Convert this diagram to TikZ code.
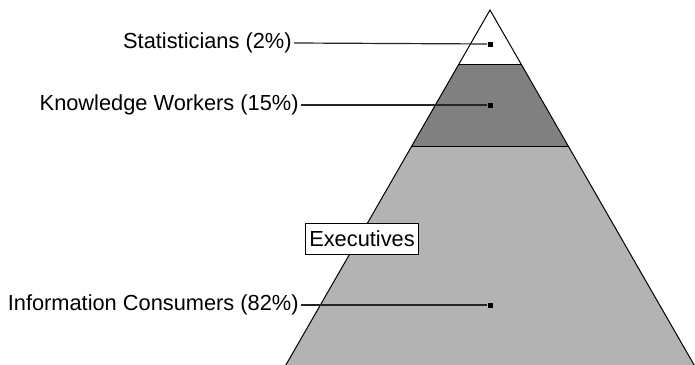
\documentclass[tikz,border=0pt]{standalone}
\usepackage{fontspec}
\setmainfont{Liberation Sans}
\usepackage{xcolor}
\definecolor{bandtop}{RGB}{255,255,255}
\definecolor{bandmid}{RGB}{128,128,128}
\definecolor{bandlow}{RGB}{179,179,179}

\begin{document}
\begin{tikzpicture}[x=0.5pt, y=-0.5pt,
    lbl/.style={anchor=east, inner sep=1pt, font=\fontsize{10.9}{12}\selectfont},
    pin/.style={fill=black, inner sep=0pt, minimum size=2.5pt},
    lead/.style={draw=black!85, line width=0.6pt}]
    \useasboundingbox (0,0) rectangle (695,364);
    \clip (0,0) rectangle (695,364);

    % Pyramid bands
    \fill[bandlow] (412,146) -- (568,146) -- (697,370) -- (283,370) -- cycle;
    \fill[bandmid] (459,64) -- (521,64) -- (568,146) -- (412,146) -- cycle;
    \fill[bandtop] (490,10) -- (521,64) -- (459,64) -- cycle;
    \draw[line width=0.5pt] (459,64) -- (521,64);
    \draw[line width=0.5pt] (412,146) -- (568,146);
    \draw[line width=0.5pt] (283,370) -- (490,10) -- (697,370);

    % Labels
    \node[lbl] (stat) at (294,43) {Statisticians (2\%)};
    \node[lbl] (know) at (301,105) {Knowledge Workers (15\%)};
    \node[lbl] (info) at (301,305) {Information Consumers (82\%)};
    \node[draw, fill=white, line width=0.5pt, inner xsep=2pt, inner ysep=3.5pt,
          font=\fontsize{10.9}{12}\selectfont] (exec) at (362,239) {Executives};

    % Pins in the bands
    \node[pin] (p1) at (490,44) {};
    \node[pin] (p2) at (490,105) {};
    \node[pin] (p3) at (490,305) {};

    % Leaders
    \draw[lead] (stat.east) -- (p1);
    \draw[lead] (know.east) -- (p2);
    \draw[lead] (info.east) -- (p3);
\end{tikzpicture}
\end{document}
